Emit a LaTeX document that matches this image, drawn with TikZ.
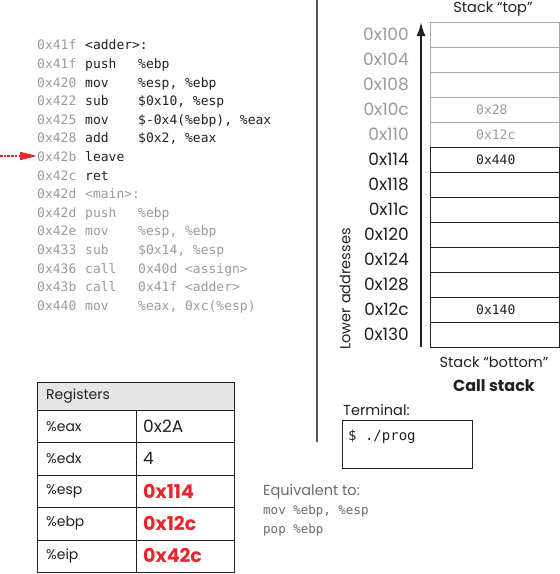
\documentclass[tikz,border=0pt]{standalone}
\usepackage{fontspec}
\setmainfont{Poppins}
\newfontfamily\codefont{DejaVu Sans Mono}
\usetikzlibrary{arrows.meta}

\definecolor{addrgrey}{HTML}{9A9A9A}
\definecolor{ink}{HTML}{231F20}
\definecolor{hotred}{HTML}{E8262B}
\definecolor{rulegrey}{HTML}{5C5660}
\definecolor{cellgrey}{HTML}{A8A8A8}
\definecolor{headfill}{HTML}{E6E6E6}
\definecolor{notegrey}{HTML}{6A6A6A}

\tikzset{
  code/.style={font=\codefont\fontsize{13}{13}\selectfont, anchor=base west, inner sep=0pt},
  addrlabel/.style={font=\fontsize{17}{17}\selectfont, anchor=east, inner sep=0pt},
  cellbox/.style={draw, line width=1pt, minimum width=129pt, minimum height=25pt, inner sep=0pt},
  cellval/.style={font=\codefont\fontsize{13}{13}\selectfont, anchor=west, inner sep=0pt},
  regcell/.style={draw=ink, line width=1pt, anchor=north west, inner sep=0pt},
  regtext/.style={font=\fontsize{14}{14}\selectfont, anchor=west, inner sep=0pt, text=ink},
  regval/.style={font=\bfseries\fontsize{19}{19}\selectfont, anchor=west, inner sep=0pt, text=hotred},
  caption/.style={font=\fontsize{14.5}{14.5}\selectfont, inner sep=0pt, text=ink},
}

\begin{document}
\begin{tikzpicture}[x=1pt, y=-1pt]
\useasboundingbox (0,0) rectangle (560,574);

% ---------- disassembly listing ----------
\foreach \k/\addr/\op/\arg/\ac/\ic in {
  0/0x41f/{<adder>:}/{}/addrgrey/ink,
  1/0x41f/push/{\%ebp}/addrgrey/ink,
  2/0x420/mov/{\%esp, \%ebp}/addrgrey/ink,
  3/0x422/sub/{\$0x10, \%esp}/addrgrey/ink,
  4/0x425/mov/{\$-0x4(\%ebp), \%eax}/addrgrey/ink,
  5/0x428/add/{\$0x2, \%eax}/addrgrey/ink,
  6/0x42b/leave/{}/addrgrey/ink,
  7/0x42c/ret/{}/addrgrey/ink,
  8/0x42d/{<main>:}/{}/addrgrey/addrgrey,
  9/0x42d/push/{\%ebp}/addrgrey/addrgrey,
  10/0x42e/mov/{\%esp, \%ebp}/addrgrey/addrgrey,
  11/0x433/sub/{\$0x14, \%esp}/addrgrey/addrgrey,
  12/0x436/call/{0x40d <assign>}/addrgrey/addrgrey,
  13/0x43b/call/{0x41f <adder>}/addrgrey/addrgrey,
  14/0x440/mov/{\%eax, 0xc(\%esp)}/addrgrey/addrgrey}
{
  \pgfmathsetmacro{\yy}{49.8+18.6*\k}
  \node[code, text=\ac] (la\k) at (37,\yy) {\addr};
  \node[code, text=\ic] (lo\k) at (85,\yy) {\op};
  \node[code, text=\ic] (lg\k) at (138,\yy) {\arg};
}

% current instruction marker
\coordinate (pcTail) at (0,156);
\draw[hotred, line width=1.6pt, dash pattern=on 2.5pt off 1.2pt,
      -{Triangle[length=17pt,width=8pt]}] (pcTail) -- (la6.west |- pcTail);

% ---------- separator ----------
\coordinate (sepTop) at (317,0);
\coordinate (sepBot) at (317,442);
\draw[rulegrey, line width=2pt] (sepTop) -- (sepBot);

% ---------- call stack ----------
\node[caption] (topCap) at (493,9) {Stack “top”};

\foreach \i/\addr/\val in {0/0x100/, 1/0x104/, 2/0x108/, 3/0x10c/0x28, 4/0x110/0x12c}
{
  \node[cellbox, draw=cellgrey] (c\i) at (494.5,34.5+25*\i) {};
  \node[addrlabel, text=addrgrey] (a\i) at (409,34.5+25*\i) {\addr};
  \node[cellval, text=addrgrey] (v\i) at (476,34.5+25*\i) {\val};
}
\foreach \i/\addr/\val in {5/0x114/0x440, 6/0x118/, 7/0x11c/, 8/0x120/, 9/0x124/,
                           10/0x128/, 11/0x12c/0x140, 12/0x130/}
{
  \node[cellbox, draw=ink] (c\i) at (494.5,34.5+25*\i) {};
  \node[addrlabel, text=ink] (a\i) at (409,34.5+25*\i) {\addr};
  \node[cellval, text=ink] (v\i) at (476,34.5+25*\i) {\val};
}

\coordinate (growBot) at (421,347);
\coordinate (growTop) at (421,22);
\draw[ink, line width=2pt, -{Latex[length=14pt,width=9pt]}] (growBot) -- (growTop);

\node[caption, rotate=90] (lowCap) at (345,289) {Lower addresses};
\node[caption] (botCap) at (494,362) {Stack “bottom”};
\node[caption, font=\bfseries\fontsize{16}{16}\selectfont] (callCap) at (494,386) {Call stack};

% ---------- registers ----------
\node[regcell, fill=headfill, minimum width=197pt, minimum height=28pt] (rHead) at (37,382) {};
\node[regtext] (rTitle) at (46,396) {Registers};
\foreach \j/\reg/\val/\hot in {0/\%eax/0x2A/0, 1/\%edx/4/0, 2/\%esp/0x114/1, 3/\%ebp/0x12c/1, 4/\%eip/0x42c/1}
{
  \pgfmathsetmacro{\top}{410+32.4*\j}
  \node[regcell, minimum width=99pt, minimum height=32.4pt] (rn\j) at (37,\top) {};
  \node[regcell, minimum width=98pt, minimum height=32.4pt] (rv\j) at (136,\top) {};
  \node[regtext] (rl\j) at (46,\top+16.2) {\reg};
  \ifnum\hot=1
    \node[regval] (rx\j) at (143,\top+16.2) {\val};
  \else
    \node[regtext, font=\fontsize{17}{17}\selectfont] (rx\j) at (143,\top+16.2) {\val};
  \fi
}

% ---------- terminal ----------
\node[caption, anchor=west] (termCap) at (343,410) {Terminal:};
\node[draw=ink, line width=1pt, anchor=north west, minimum width=130pt, minimum height=48pt,
      inner sep=0pt] (term) at (342,420) {};
\node[font=\codefont\fontsize{14}{14}\selectfont, anchor=west, inner sep=0pt, text=ink]
      (cmd) at (348,437) {\$ ./prog};

% ---------- note on leave ----------
\node[caption, anchor=west, text=notegrey] (eqCap) at (263,492) {Equivalent to:};
\node[code, font=\codefont\fontsize{12.5}{12.5}\selectfont, anchor=west, text=notegrey]
      (eq1) at (263,511) {mov \%ebp, \%esp};
\node[code, font=\codefont\fontsize{12.5}{12.5}\selectfont, anchor=west, text=notegrey]
      (eq2) at (263,530) {pop \%ebp};
\end{tikzpicture}
\end{document}
